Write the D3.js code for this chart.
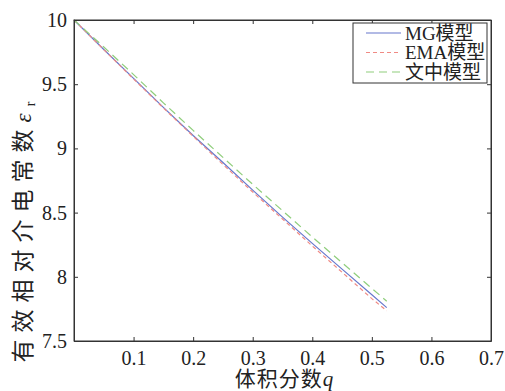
<!DOCTYPE html>
<html>
<head>
<meta charset="utf-8">
<script src="https://cdn.jsdelivr.net/npm/d3@7"></script>
<style>
  body { margin: 0; background: #fff; }
  svg { display: block; }
  text { font-family: "Liberation Serif", "Times New Roman", "Noto Sans CJK SC", serif; fill: #222; }
</style>
</head>
<body>
<svg id="chart" width="505" height="391"></svg>
<script>
// volume fraction q
var qValues = [0, 0.05, 0.1, 0.15, 0.2, 0.25, 0.3, 0.35, 0.4, 0.45, 0.5, 0.525];
// effective relative permittivity
var mgValues   = [10, 9.77, 9.545, 9.32, 9.10, 8.89, 8.675, 8.465, 8.26, 8.06, 7.86, 7.76];
var emaValues  = [10, 9.77, 9.54, 9.315, 9.095, 8.875, 8.66, 8.45, 8.24, 8.035, 7.83, 7.735];
var paperValues = [10, 9.79, 9.575, 9.355, 9.14, 8.93, 8.72, 8.515, 8.31, 8.11, 7.91, 7.81];

var seriesNames = ["MG模型", "EMA模型", "文中模型"];
var xTicks = [0.1, 0.2, 0.3, 0.4, 0.5, 0.6, 0.7];
var yTicks = [7.5, 8, 8.5, 9, 9.5, 10];

var svg = d3.select("#chart");
var margin = {top: 20, right: 14, bottom: 50, left: 74};
var width = 505 - margin.left - margin.right;
var height = 391 - margin.top - margin.bottom;
var g = svg.append("g").attr("transform", "translate(" + margin.left + "," + margin.top + ")");

var x = d3.scaleLinear().domain([0, 0.7]).range([0, width]);
var y = d3.scaleLinear().domain([7.5, 10]).range([height, 0]);

var series = [
  {name: seriesNames[0], values: mgValues, color: "#6677cc", dash: null},
  {name: seriesNames[1], values: emaValues, color: "#f08a84", dash: "4,3"},
  {name: seriesNames[2], values: paperValues, color: "#8fce7c", dash: "8,5"}
];

var line = d3.line()
    .x(function(d) { return x(d[0]); })
    .y(function(d) { return y(d[1]); });

series.forEach(function(s) {
  g.append("path")
      .datum(qValues.map(function(q, i) { return [q, s.values[i]]; }))
      .attr("fill", "none")
      .attr("stroke", s.color)
      .attr("stroke-width", 1.2)
      .attr("stroke-dasharray", s.dash)
      .attr("d", line);
});

// frame and axes
var frameColor = "#333";
g.append("rect")
    .attr("width", width).attr("height", height)
    .attr("fill", "none").attr("stroke", frameColor).attr("stroke-width", 1);

var xAxis = g.append("g")
    .attr("transform", "translate(0," + height + ")")
    .call(d3.axisBottom(x).tickValues(xTicks).tickSizeInner(-4).tickSizeOuter(0).tickPadding(10).tickFormat(d3.format(".1f")));
var xAxisTop = g.append("g")
    .call(d3.axisTop(x).tickValues(xTicks).tickSizeInner(-4).tickSizeOuter(0).tickFormat(""));
var yAxis = g.append("g")
    .call(d3.axisLeft(y).tickValues(yTicks).tickSizeInner(-4).tickSizeOuter(0).tickPadding(7).tickFormat(function(d) { return d % 1 === 0 ? d3.format("d")(d) : d3.format(".1f")(d); }));
var yAxisRight = g.append("g")
    .attr("transform", "translate(" + width + ",0)")
    .call(d3.axisRight(y).tickValues(yTicks).tickSizeInner(-4).tickSizeOuter(0).tickFormat(""));

[xAxis, xAxisTop, yAxis, yAxisRight].forEach(function(a) {
  a.select(".domain").attr("stroke", frameColor);
  a.selectAll(".tick line").attr("stroke", frameColor);
  a.selectAll(".tick text")
      .style("font-family", "'Liberation Serif', serif")
      .style("font-size", "20px")
      .attr("fill", "#222");
});

// axis titles
svg.append("text")
    .attr("x", margin.left + width / 2 + 2)
    .attr("y", 386)
    .attr("text-anchor", "middle")
    .style("font-size", "21px")
    .style("letter-spacing", "1px")
    .text("体积分数")
  .append("tspan")
    .style("font-style", "italic")
    .style("font-family", "'Liberation Serif', serif")
    .text("q");

var yTitle = svg.append("text")
    .attr("transform", "translate(31,232) rotate(-90)")
    .attr("text-anchor", "middle")
    .style("font-size", "23px")
    .style("letter-spacing", "7px");
yTitle.append("tspan").text("有效相对介电常数");
yTitle.append("tspan")
    .style("font-style", "italic")
    .style("font-family", "'Liberation Serif', serif")
    .text("ε");
yTitle.append("tspan")
    .attr("dy", 4)
    .style("font-size", "14px")
    .style("font-family", "'Liberation Serif', serif")
    .style("letter-spacing", "0px")
    .text("r");

// legend
var legend = g.append("g").attr("transform", "translate(" + (x(0.7) - 138) + ",3)");
legend.append("rect")
    .attr("width", 134).attr("height", 60)
    .attr("fill", "#fff").attr("stroke", frameColor).attr("stroke-width", 1);
series.forEach(function(s, i) {
  var row = legend.append("g").attr("transform", "translate(0," + (10 + i * 19.5) + ")");
  row.append("line")
      .attr("x1", 13).attr("x2", 48)
      .attr("stroke", s.color).attr("stroke-width", 1.2)
      .attr("stroke-dasharray", s.dash);
  row.append("text")
      .attr("x", 52).attr("dy", "0.35em")
      .style("font-size", "19px")
      .text(s.name);
});
</script>
</body>
</html>
